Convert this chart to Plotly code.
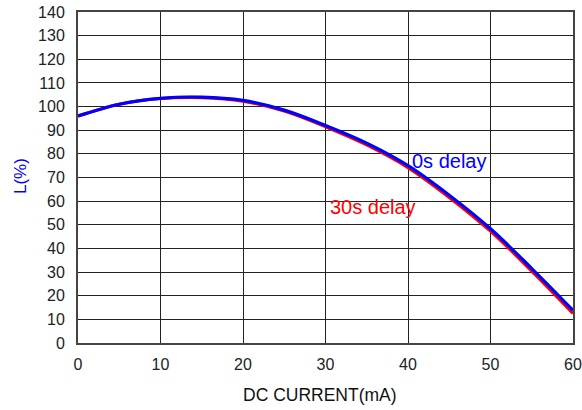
import plotly.graph_objects as go

current_ma = [0, 5, 10, 15, 20, 25, 30, 35, 40, 45, 50, 55, 60]
l_0s = [96, 101, 103.5, 104, 102.6, 98.5, 92, 84.5, 75, 62.5, 48.3, 31.5, 13.8]
l_30s = [96, 101, 103.4, 103.8, 102.3, 98.1, 91.5, 83.8, 74.2, 61.6, 47.3, 30.4, 12.5]
x_ticks = [0, 10, 20, 30, 40, 50, 60]
y_ticks = list(range(0, 141, 10))

fig = go.Figure()
fig.add_trace(go.Scatter(x=current_ma, y=l_30s, mode="lines",
                         line=dict(color="#ff0000", width=3.2, shape="spline"), name="30s delay"))
fig.add_trace(go.Scatter(x=current_ma, y=l_0s, mode="lines",
                         line=dict(color="#0000ff", width=3.2, shape="spline"), name="0s delay"))

font = "Liberation Sans, Arial, sans-serif"
L, R, T, B = 78, 573, 12, 343
W, H = 582, 410
pw, ph = R - L, B - T

fig.update_layout(
    width=W, height=H,
    margin=dict(l=L, r=W - R, t=T, b=H - B, autoexpand=False),
    paper_bgcolor="white", plot_bgcolor="white",
    showlegend=False,
    font=dict(family=font, size=16, color="#222222"),
    xaxis=dict(range=[0, 60], tickvals=x_ticks, showgrid=True, gridcolor="#222222", gridwidth=1.3,
               showline=True, linecolor="#444444", linewidth=2, mirror=True, zeroline=False,
               automargin=False, ticks="outside", ticklen=6, tickcolor="rgba(0,0,0,0)",
               tickfont=dict(size=16, color="#222222")),
    yaxis=dict(range=[0, 140], tickvals=y_ticks, showgrid=True, gridcolor="#222222", gridwidth=1.3,
               showline=True, linecolor="#444444", linewidth=2, mirror=True, zeroline=False,
               automargin=False, ticks="outside", ticklen=8, tickcolor="rgba(0,0,0,0)",
               tickfont=dict(size=16, color="#222222")),
    annotations=[
        dict(text="0s delay", x=40.3, y=77, xref="x", yref="y", xanchor="left", yanchor="middle",
             showarrow=False, font=dict(size=20, color="#0000ff", family=font)),
        dict(text="30s delay", x=30.3, y=57.5, xref="x", yref="y", xanchor="left", yanchor="middle",
             showarrow=False, font=dict(size=20, color="#ff0000", family=font)),
        dict(text="DC CURRENT(mA)", xref="paper", yref="paper",
             x=(320 - L) / pw, y=(B - 395) / ph, xanchor="center", yanchor="middle",
             showarrow=False, font=dict(size=17.5, color="#111111", family=font)),
        dict(text="L(%)", xref="paper", yref="paper",
             x=(20 - L) / pw, y=(B - 176) / ph, xanchor="center", yanchor="middle",
             showarrow=False, textangle=-90, font=dict(size=17, color="#0000ff", family=font)),
    ],
)

fig.write_html("out.html")
